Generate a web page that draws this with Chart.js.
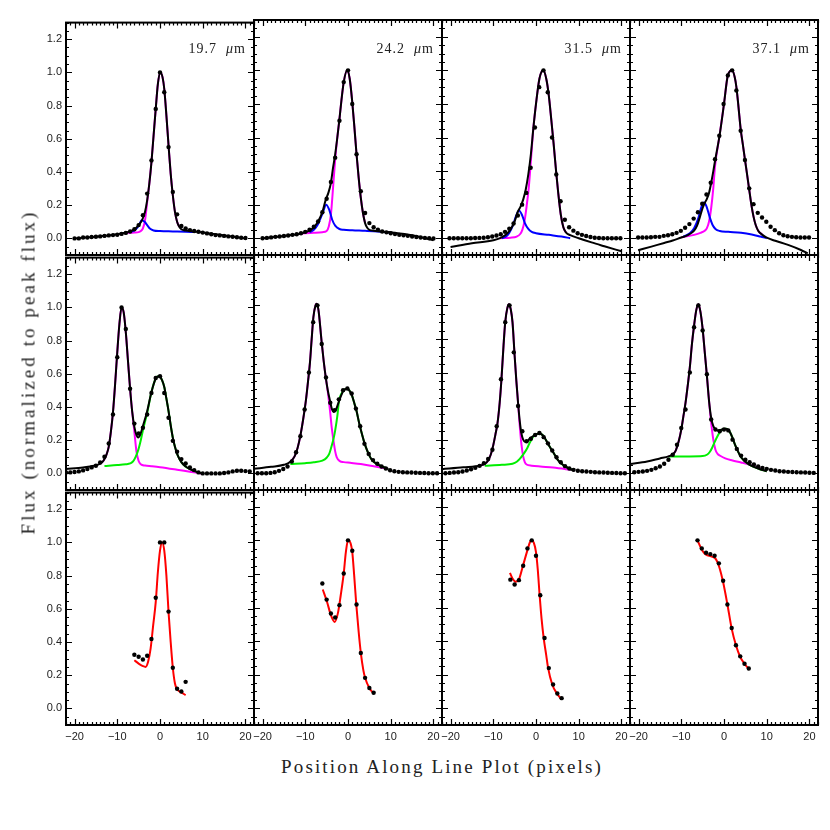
<!DOCTYPE html>
<html><head><meta charset="utf-8">
<script src="https://cdn.jsdelivr.net/npm/chart.js@4.4.1/dist/chart.umd.min.js"></script>
<style>
html,body{margin:0;padding:0;background:#fff;}
#fig{position:relative;width:830px;height:830px;overflow:hidden;background:#fff;}
#fig canvas{position:absolute;}
.wl{position:absolute;font-family:"Liberation Serif",serif;font-size:14px;line-height:16px;letter-spacing:1px;color:#222;white-space:pre;}
.ax{position:absolute;font-family:"Liberation Serif",serif;font-size:19px;line-height:19px;color:#222;white-space:pre;}
</style></head><body><div id="fig"></div>
<script>
// ---------- tick labels / categories ----------
const X_TICKS = [-20, -10, 0, 10, 20];
const Y_TICKS = [0, 0.2, 0.4, 0.6, 0.8, 1.0, 1.2];
const WAVELENGTHS = ['19.7', '24.2', '31.5', '37.1'];
const X_LABEL = 'Position Along Line Plot (pixels)';
const Y_LABEL = 'Flux (normalized to peak flux)';

// ---------- row 1 : single source + shoulder (magenta + blue) ----------
const p1DotStart = -20;
const p1Dots = [0.0,0.0,0.005,0.005,0.008,0.01,0.012,0.015,0.018,0.02,0.022,0.027,0.033,0.042,0.055,0.08,0.14,0.27,0.47,0.78,1.0,0.88,0.55,0.28,0.145,0.075,0.06,0.05,0.045,0.04,0.035,0.03,0.025,0.02,0.018,0.015,0.012,0.01,0.007,0.004,0.002];
const p1Fit = [[-20,0.0],[-15,0.01],[-10,0.025],[-8,0.035],[-7,0.042],[-6,0.055],[-5,0.08],[-4.2,0.11],[-3.5,0.16],[-3,0.23],[-2.5,0.33],[-2,0.46],[-1.5,0.62],[-1,0.78],[-0.5,0.93],[0.1,1.0],[0.6,0.97],[1,0.9],[1.5,0.74],[2,0.56],[2.5,0.39],[3,0.26],[3.5,0.16],[4,0.1],[4.5,0.07],[5,0.055],[6,0.047],[8,0.042],[10,0.036],[13,0.025],[16,0.014],[20,0.0]];
const p1Main = [[-8,0.033],[-6,0.035],[-5,0.038],[-4.5,0.045],[-4,0.06],[-3.5,0.11],[-3,0.22],[-2.5,0.33],[-2,0.46],[-1.5,0.62],[-1,0.78],[-0.5,0.93],[0.1,1.0],[0.6,0.97],[1,0.9],[1.5,0.74],[2,0.56],[2.5,0.39],[3,0.26],[3.5,0.16],[4,0.1],[4.5,0.07]];
const p1Second = [[-7,0.038],[-6,0.048],[-5,0.075],[-4.3,0.11],[-3.6,0.1],[-3,0.08],[-2.3,0.058],[-1.5,0.048],[0,0.044],[3,0.042],[6,0.04],[8,0.038]];

const p2DotStart = -20;
const p2Dots = [0.0,0.002,0.005,0.008,0.01,0.013,0.016,0.02,0.024,0.03,0.038,0.05,0.068,0.1,0.155,0.235,0.335,0.48,0.7,0.93,1.0,0.8,0.5,0.28,0.15,0.09,0.065,0.05,0.04,0.035,0.03,0.025,0.02,0.017,0.014,0.01,0.007,0.004,0.002,0.0,-0.002];
const p2Fit = [[-20,0.0],[-15,0.013],[-11,0.028],[-9,0.045],[-8,0.065],[-7,0.1],[-6,0.155],[-5.2,0.23],[-4.6,0.27],[-4,0.33],[-3.5,0.42],[-3,0.5],[-2.5,0.6],[-2,0.71],[-1.5,0.83],[-1,0.93],[-0.2,1.0],[0.4,0.95],[1,0.81],[1.5,0.66],[2,0.5],[2.5,0.36],[3,0.24],[3.5,0.15],[4,0.09],[4.5,0.062],[5,0.05],[6,0.045],[10,0.035],[15,0.018],[20,-0.012]];
const p2Main = [[-11,0.028],[-8,0.032],[-6,0.036],[-5,0.043],[-4.5,0.07],[-4,0.14],[-3.5,0.3],[-3,0.47],[-2.5,0.6],[-2,0.71],[-1.5,0.83],[-1,0.93],[-0.2,1.0],[0.4,0.95],[1,0.81],[1.5,0.66],[2,0.5],[2.5,0.36],[3,0.24],[3.5,0.15],[4,0.09]];
const p2Second = [[-9,0.035],[-8,0.05],[-7,0.085],[-6,0.145],[-5.1,0.2],[-4.4,0.17],[-3.7,0.11],[-3,0.075],[-2,0.055],[-1,0.05],[1,0.047],[4,0.044],[7,0.04],[10,0.033]];

const p3DotStart = -20.25;
const p3Dots = [0,0,0,0,0,0,0.001,0.002,0.003,0.006,0.01,0.016,0.024,0.038,0.056,0.088,0.135,0.2,0.27,0.42,0.66,0.9,1.0,0.87,0.6,0.38,0.22,0.11,0.065,0.045,0.03,0.02,0.013,0.007,0.003,0.001,0,0,0,0,0];
const p3Fit = [[-20,-0.052],[-15,-0.03],[-10,-0.012],[-8.4,0.0],[-7,0.022],[-6,0.05],[-5,0.1],[-4.3,0.155],[-3.6,0.19],[-3,0.23],[-2.4,0.29],[-1.8,0.38],[-1.2,0.5],[-0.6,0.66],[0,0.8],[0.8,0.95],[1.7,1.0],[2.4,0.95],[3,0.85],[3.6,0.7],[4.1,0.57],[4.7,0.4],[5.2,0.27],[5.8,0.14],[6.4,0.065],[7,0.035],[8,0.018],[10,0.0],[13,-0.025],[16,-0.048],[20,-0.078]];
const p3Main = [[-8.5,0.0],[-6,0.003],[-4.5,0.01],[-3.7,0.025],[-3.2,0.05],[-2.7,0.1],[-2.2,0.19],[-1.7,0.3],[-1.2,0.46],[-0.6,0.66],[0,0.8],[0.8,0.95],[1.7,1.0],[2.4,0.95],[3,0.85],[3.6,0.7],[4.1,0.57],[4.7,0.4],[5.2,0.27],[5.8,0.14],[6.4,0.065],[7,0.035]];
const p3Second = [[-8,0.0],[-7,0.01],[-6.3,0.03],[-5.5,0.07],[-4.7,0.13],[-4,0.165],[-3.3,0.14],[-2.6,0.09],[-1.8,0.055],[-1,0.038],[0,0.03],[3,0.02],[6,0.01],[8,0.0]];

const p4DotStart = -20.1;
const p4Dots = [0.004,0.004,0.004,0.006,0.008,0.008,0.014,0.018,0.024,0.032,0.044,0.062,0.084,0.117,0.155,0.205,0.26,0.33,0.47,0.61,0.8,0.97,1.0,0.88,0.64,0.466,0.297,0.203,0.151,0.123,0.098,0.068,0.048,0.03,0.018,0.012,0.008,0.006,0.004,0.004,0.004];
const p4Fit = [[-20.1,-0.072],[-17,-0.05],[-14,-0.028],[-12,-0.014],[-10,0.004],[-9,0.012],[-8,0.025],[-7,0.045],[-6.3,0.075],[-5.6,0.13],[-5,0.18],[-4.5,0.21],[-4,0.235],[-3.5,0.27],[-3,0.33],[-2.5,0.4],[-2.1,0.46],[-1.05,0.61],[0,0.8],[0.9,0.97],[1.9,1.0],[2.5,0.96],[2.9,0.9],[3.4,0.78],[3.9,0.65],[4.4,0.56],[4.9,0.47],[5.4,0.38],[5.9,0.29],[6.4,0.2],[6.9,0.13],[7.4,0.08],[8,0.045],[9,0.02],[10,0.003],[12,-0.015],[15,-0.04],[18,-0.07],[19.6,-0.09]];
const p4Main = [[-10,0.006],[-7,0.02],[-5.5,0.032],[-4.5,0.045],[-4,0.06],[-3.5,0.1],[-3,0.18],[-2.5,0.3],[-2.1,0.43],[-1.05,0.61],[0,0.8],[0.9,0.97],[1.9,1.0],[2.5,0.96],[2.9,0.9],[3.4,0.78],[3.9,0.65],[4.4,0.56],[4.9,0.47],[5.4,0.38],[5.9,0.29],[6.4,0.2],[6.9,0.13],[7.4,0.08],[8,0.045],[9,0.02]];
const p4Second = [[-9.5,0.01],[-8,0.03],[-7,0.06],[-6,0.12],[-5.3,0.185],[-4.7,0.213],[-4.1,0.19],[-3.4,0.13],[-2.7,0.08],[-2,0.055],[-1,0.043],[1,0.038],[4,0.032],[6.5,0.022],[8.5,0.01],[10,0.0]];

// ---------- row 2 : two sources (magenta + green) ----------
const p5DotStart = -22;
const p5Dots = [0.005,0.006,0.008,0.012,0.018,0.026,0.036,0.046,0.066,0.1,0.18,0.355,0.7,1.0,0.87,0.51,0.3,0.24,0.275,0.355,0.484,0.575,0.585,0.484,0.335,0.196,0.13,0.086,0.06,0.036,0.02,0.006,0.0,0.0,0.0,0.0,0.0,0.002,0.006,0.012,0.016,0.016,0.014,0.012];
const p5Fit = [[-22,0.026],[-18,0.036],[-15.5,0.046],[-14,0.058],[-13.2,0.078],[-12.5,0.115],[-12,0.16],[-11.5,0.25],[-11,0.37],[-10.5,0.54],[-10,0.73],[-9.5,0.9],[-9,1.0],[-8.5,0.97],[-8,0.85],[-7.5,0.68],[-7,0.51],[-6.5,0.37],[-6,0.28],[-5.5,0.23],[-5.1,0.216],[-4.6,0.235],[-4,0.285],[-3,0.375],[-2,0.49],[-1,0.572],[-0.2,0.587],[0.5,0.56],[1,0.52],[1.5,0.45],[2,0.375],[2.5,0.29],[3,0.215],[3.5,0.16],[4,0.118],[5,0.068],[6,0.042],[7,0.026],[8,0.015],[9,0.006],[9.75,0.0]];
const p5Main = [[-14,0.058],[-13.2,0.078],[-12.5,0.115],[-12,0.16],[-11.5,0.25],[-11,0.37],[-10.5,0.54],[-10,0.73],[-9.5,0.9],[-9,1.0],[-8.5,0.97],[-8,0.85],[-7.5,0.68],[-7,0.51],[-6.5,0.37],[-6,0.25],[-5.5,0.13],[-5,0.075],[-4.5,0.055],[-3.5,0.047],[-2,0.043],[0,0.037],[4,0.022],[7,0.01],[9.6,0.0]];
const p5Second = [[-13,0.045],[-10,0.05],[-8,0.055],[-7,0.06],[-6.3,0.072],[-5.7,0.1],[-5.1,0.14],[-4.5,0.2],[-4,0.26],[-3,0.365],[-2,0.49],[-1,0.572],[-0.2,0.587],[0.5,0.56],[1,0.52],[1.5,0.45],[2,0.375],[2.5,0.29],[3,0.215],[3.5,0.16],[4,0.118],[5,0.068],[6,0.042],[7,0.026],[8,0.015],[9,0.006],[9.75,0.0]];

const p6DotStart = -21.15;
const p6Dots = [0,0,0,0.002,0.006,0.014,0.025,0.04,0.07,0.125,0.22,0.38,0.6,0.9,1.0,0.77,0.57,0.42,0.375,0.44,0.495,0.505,0.475,0.385,0.28,0.175,0.115,0.078,0.056,0.04,0.028,0.018,0.012,0.008,0.006,0.005,0.004,0.003,0.002,0.001,0,0,0];
const p6Fit = [[-22,0.026],[-18,0.038],[-15,0.05],[-13.5,0.068],[-12.5,0.1],[-11.8,0.15],[-11.1,0.23],[-10.5,0.32],[-9.8,0.445],[-9.3,0.56],[-8.9,0.66],[-8.5,0.8],[-8.1,0.93],[-7.6,1.0],[-7.3,1.01],[-6.9,0.97],[-6.2,0.79],[-5.7,0.67],[-5.2,0.57],[-4.7,0.49],[-4.2,0.43],[-3.8,0.385],[-3.3,0.365],[-2.8,0.38],[-2.1,0.43],[-1.1,0.49],[-0.15,0.505],[0.4,0.49],[0.9,0.465],[1.5,0.415],[2,0.37],[2.6,0.3],[3.2,0.24],[3.8,0.185],[4.4,0.14],[5,0.105],[5.6,0.08],[6.7,0.056],[8,0.04],[9.4,0.026]];
const p6Main = [[-13.5,0.068],[-12.5,0.1],[-11.8,0.15],[-11.1,0.23],[-10.5,0.32],[-9.8,0.445],[-9.3,0.56],[-8.9,0.66],[-8.5,0.8],[-8.1,0.93],[-7.6,1.0],[-7.3,1.01],[-6.9,0.97],[-6.2,0.79],[-5.7,0.67],[-5.2,0.57],[-4.7,0.48],[-4.2,0.37],[-3.8,0.27],[-3.4,0.195],[-3,0.13],[-2.65,0.096],[-1.9,0.072],[-1,0.066],[0.5,0.062],[3,0.055],[6,0.042],[9.4,0.026]];
const p6Second = [[-13.5,0.055],[-10,0.06],[-8,0.065],[-6,0.075],[-5,0.092],[-4.4,0.115],[-3.8,0.165],[-3.3,0.215],[-3,0.255],[-2.5,0.34],[-2.1,0.43],[-1.1,0.49],[-0.15,0.505],[0.4,0.49],[0.9,0.465],[1.5,0.415],[2,0.37],[2.6,0.3],[3.2,0.24],[3.8,0.185],[4.4,0.14],[5,0.105],[5.6,0.08],[6.7,0.056],[8,0.04],[9.4,0.026]];

const p7DotStart = -21.2;
const p7Dots = [0,0.002,0.004,0.006,0.01,0.016,0.024,0.032,0.044,0.06,0.085,0.14,0.28,0.56,0.9,1.0,0.72,0.4,0.25,0.19,0.205,0.228,0.24,0.215,0.178,0.135,0.095,0.065,0.042,0.028,0.02,0.015,0.012,0.01,0.008,0.006,0.005,0.004,0.003,0.002,0.001,0,0];
const p7Fit = [[-22,0.024],[-17,0.035],[-13,0.046],[-12,0.055],[-11.2,0.076],[-10.6,0.11],[-10.1,0.156],[-9.5,0.23],[-9,0.3],[-8.5,0.42],[-8.1,0.554],[-7.6,0.76],[-7.2,0.9],[-6.7,0.985],[-6.3,1.006],[-5.9,0.975],[-5.5,0.9],[-5,0.7],[-4.6,0.55],[-4.2,0.42],[-3.8,0.31],[-3.4,0.235],[-3,0.2],[-2.5,0.186],[-2,0.19],[-1.5,0.205],[-0.5,0.223],[0.3,0.234],[0.86,0.237],[1.4,0.23],[1.9,0.216],[2.5,0.19],[3,0.166],[4,0.126],[5.1,0.08],[6,0.056],[6.7,0.042],[8,0.025],[9,0.016]];
const p7Main = [[-13,0.046],[-12,0.055],[-11.2,0.076],[-10.6,0.11],[-10.1,0.156],[-9.5,0.23],[-9,0.3],[-8.5,0.42],[-8.1,0.554],[-7.6,0.76],[-7.2,0.9],[-6.7,0.985],[-6.3,1.006],[-5.9,0.975],[-5.5,0.9],[-5,0.7],[-4.6,0.55],[-4.2,0.42],[-3.8,0.28],[-3.4,0.17],[-3,0.1],[-2.6,0.065],[-2.2,0.052],[-1,0.045],[1,0.04],[4,0.034],[7,0.024],[9,0.016]];
const p7Second = [[-12,0.045],[-8,0.05],[-5.5,0.056],[-4.5,0.068],[-3.8,0.085],[-3.2,0.105],[-2.5,0.13],[-2,0.152],[-1.5,0.18],[-0.5,0.223],[0.3,0.234],[0.86,0.237],[1.4,0.23],[1.9,0.216],[2.5,0.19],[3,0.166],[4,0.126],[5.1,0.08],[6,0.056],[6.7,0.042],[8,0.025],[9,0.016]];

const p8DotStart = -21;
const p8Dots = [0.006,0.008,0.01,0.014,0.02,0.03,0.04,0.056,0.08,0.11,0.17,0.27,0.38,0.6,0.87,1.0,0.85,0.59,0.32,0.26,0.25,0.26,0.255,0.2,0.145,0.105,0.08,0.065,0.052,0.04,0.032,0.026,0.02,0.016,0.012,0.01,0.008,0.007,0.006,0.005,0.004,0.003,0.002];
const p8Fit = [[-22,0.055],[-18,0.07],[-15,0.088],[-13,0.1],[-12,0.112],[-11.3,0.135],[-10.6,0.19],[-10,0.26],[-9.5,0.34],[-9,0.42],[-8.5,0.52],[-8,0.63],[-7.5,0.77],[-7,0.88],[-6.5,0.97],[-6,1.006],[-5.5,0.96],[-5,0.86],[-4.5,0.72],[-4,0.58],[-3.5,0.43],[-3,0.33],[-2.5,0.28],[-2,0.262],[-1.5,0.255],[-0.5,0.26],[0.4,0.265],[1,0.258],[1.5,0.24],[2,0.21],[2.5,0.175],[3,0.145],[3.5,0.118],[4,0.095],[5,0.068],[6,0.05],[7,0.038],[8,0.028],[9,0.019],[10,0.012]];
const p8Main = [[-13,0.1],[-12,0.112],[-11.3,0.135],[-10.6,0.19],[-10,0.26],[-9.5,0.34],[-9,0.42],[-8.5,0.52],[-8,0.63],[-7.5,0.77],[-7,0.88],[-6.5,0.97],[-6,1.006],[-5.5,0.96],[-5,0.86],[-4.5,0.72],[-4,0.58],[-3.5,0.43],[-3,0.3],[-2.5,0.2],[-2,0.14],[-1.5,0.115],[-0.9,0.104],[0.3,0.088],[2,0.076],[4,0.064],[7.3,0.04],[10,0.012]];
const p8Second = [[-13,0.1],[-8,0.1],[-5,0.102],[-4,0.11],[-3.3,0.128],[-2.8,0.15],[-2.2,0.185],[-1.5,0.222],[-0.5,0.26],[0.4,0.265],[1,0.258],[1.5,0.24],[2,0.21],[2.5,0.175],[3,0.145],[3.5,0.118],[4,0.095],[5,0.068],[6,0.05],[7,0.038],[8,0.028],[9,0.019],[10,0.012]];

// ---------- row 3 : ratio profiles (red fit) ----------
const p9DotStart = -6;
const p9Dots = [0.323,0.311,0.295,0.317,0.418,0.667,1.0,1.0,0.583,0.245,0.118,0.102,0.16];
const p9Fit = [[-6,0.29],[-5,0.27],[-4,0.255],[-3.4,0.25],[-2.8,0.28],[-2.2,0.36],[-1.6,0.5],[-1,0.64],[-0.5,0.82],[0,0.95],[0.5,1.0],[1,0.95],[1.5,0.8],[2,0.58],[2.5,0.4],[3,0.245],[3.5,0.15],[4,0.115],[4.5,0.103],[5,0.096],[6,0.08]];

const p10DotStart = -6;
const p10Dots = [0.743,0.647,0.564,0.54,0.614,0.803,1.0,0.938,0.618,0.329,0.181,0.12,0.092];
const p10Fit = [[-5.9,0.707],[-4.9,0.633],[-4,0.554],[-3.1,0.514],[-2.3,0.574],[-1.7,0.673],[-1,0.803],[-0.5,0.93],[0,1.0],[0.5,0.99],[1,0.93],[1.45,0.79],[1.95,0.614],[2.5,0.454],[3,0.33],[3.6,0.225],[4,0.181],[5,0.12],[6,0.088]];

const p11DotStart = -6;
const p11Dots = [0.766,0.737,0.763,0.849,0.952,1.0,0.908,0.673,0.418,0.239,0.141,0.088,0.06];
const p11Fit = [[-6.1,0.806],[-5.5,0.773],[-4.75,0.753],[-4,0.767],[-3.05,0.849],[-2,0.942],[-1.4,0.99],[-1,1.0],[-0.5,0.985],[0,0.93],[0.4,0.83],[0.85,0.673],[1.3,0.534],[1.8,0.418],[2.4,0.315],[2.8,0.245],[3.8,0.141],[4.9,0.088],[5.85,0.056]];

const p12DotStart = -6.2;
const p12Dots = [1.0,0.952,0.926,0.918,0.908,0.863,0.759,0.618,0.478,0.375,0.309,0.265,0.237];
const p12Fit = [[-6.2,1.0],[-5.1,0.94],[-4.2,0.915],[-3,0.905],[-1.9,0.888],[-1.1,0.84],[-0.2,0.75],[0.8,0.618],[1.8,0.474],[2.8,0.375],[3.8,0.305],[4.8,0.265],[5.9,0.23]];

// ---------- styling / layout ----------
const MAGENTA = '#ff00ff', BLUE = '#0000ff', GREEN = '#00ee00', RED = '#ff0000', BLACK = '#000000';
const COL_X = [66, 254, 442, 630], ROW_Y = [20, 255, 490];
const PW = 188, PH = 235, PAD_L = 50, PAD_R = 12, PAD_T = 8, PAD_B = 26;
const TICK_FONT = {family: "'Liberation Sans', Arial, sans-serif", size: 11};

const panels = [
  {dStart: p1DotStart, dots: p1Dots, fit: p1Fit, fc: BLACK, comps: [[p1Main, MAGENTA], [p1Second, BLUE]]},
  {dStart: p2DotStart, dots: p2Dots, fit: p2Fit, fc: BLACK, comps: [[p2Main, MAGENTA], [p2Second, BLUE]]},
  {dStart: p3DotStart, dots: p3Dots, fit: p3Fit, fc: BLACK, comps: [[p3Main, MAGENTA], [p3Second, BLUE]]},
  {dStart: p4DotStart, dots: p4Dots, fit: p4Fit, fc: BLACK, comps: [[p4Main, MAGENTA], [p4Second, BLUE]]},
  {dStart: p5DotStart, dots: p5Dots, fit: p5Fit, fc: BLACK, comps: [[p5Main, MAGENTA], [p5Second, GREEN]]},
  {dStart: p6DotStart, dots: p6Dots, fit: p6Fit, fc: BLACK, comps: [[p6Main, MAGENTA], [p6Second, GREEN]]},
  {dStart: p7DotStart, dots: p7Dots, fit: p7Fit, fc: BLACK, comps: [[p7Main, MAGENTA], [p7Second, GREEN]]},
  {dStart: p8DotStart, dots: p8Dots, fit: p8Fit, fc: BLACK, comps: [[p8Main, MAGENTA], [p8Second, GREEN]]},
  {dStart: p9DotStart, dots: p9Dots, fit: p9Fit, fc: RED, comps: []},
  {dStart: p10DotStart, dots: p10Dots, fit: p10Fit, fc: RED, comps: []},
  {dStart: p11DotStart, dots: p11Dots, fit: p11Fit, fc: RED, comps: []},
  {dStart: p12DotStart, dots: p12Dots, fit: p12Fit, fc: RED, comps: []}
];

const framePlugin = {
  id: 'frame',
  afterDraw(chart) {
    const {ctx, chartArea: a, scales: {x, y}} = chart;
    ctx.save();
    ctx.strokeStyle = '#000';
    ctx.lineWidth = 1.2;
    ctx.beginPath();
    for (let v = -22; v <= 22; v++) {
      const len = (v % 10 === 0) ? 6 : 3;
      const px = Math.round(x.getPixelForValue(v)) + 0.5;
      ctx.moveTo(px, a.bottom); ctx.lineTo(px, a.bottom - len);
      ctx.moveTo(px, a.top); ctx.lineTo(px, a.top + len);
    }
    for (let k = -2; k <= 26; k++) {
      const major = (k % 4 === 0) && k >= 0 && k <= 24;
      const len = major ? 6 : 3;
      const py = Math.round(y.getPixelForValue(k * 0.05)) + 0.5;
      ctx.moveTo(a.left, py); ctx.lineTo(a.left + len, py);
      ctx.moveTo(a.right, py); ctx.lineTo(a.right - len, py);
    }
    ctx.stroke();
    ctx.lineWidth = 2;
    ctx.strokeRect(a.left, a.top, a.right - a.left, a.bottom - a.top);
    ctx.restore();
  }
};

const toXY = arr => arr.map(([x, y]) => ({x, y}));
const lineSet = (arr, color, order) => ({
  data: toXY(arr), showLine: true, borderColor: color, borderWidth: 2,
  pointRadius: 0, pointHoverRadius: 0, cubicInterpolationMode: 'monotone', fill: false, order
});
const dotSet = (start, vals) => ({
  data: vals.map((y, i) => ({x: start + i, y})), showLine: false,
  pointRadius: 2.2, pointHoverRadius: 2.2, pointBackgroundColor: '#000', pointBorderWidth: 0, pointBorderColor: '#000', order: 0
});

const fig = document.getElementById('fig');

panels.forEach((p, i) => {
  const r = Math.floor(i / 4), c = i % 4;
  const W = PW + PAD_L + PAD_R, H = PH + PAD_T + PAD_B;
  const cv = document.createElement('canvas');
  cv.width = W; cv.height = H;
  cv.style.width = W + 'px'; cv.style.height = H + 'px';
  cv.style.left = (COL_X[c] - PAD_L) + 'px';
  cv.style.top = (ROW_Y[r] - PAD_T) + 'px';
  fig.appendChild(cv);

  const datasets = [dotSet(p.dStart, p.dots), lineSet(p.fit, p.fc, 1)];
  p.comps.forEach(([arr, col], j) => datasets.push(lineSet(arr, col, 3 - j)));

  new Chart(cv, {
    type: 'scatter',
    data: {datasets},
    options: {
      responsive: false, animation: false, devicePixelRatio: 1, events: [],
      layout: {padding: {left: 0, right: PAD_R, top: PAD_T, bottom: 0}, autoPadding: false},
      plugins: {legend: {display: false}, tooltip: {enabled: false}},
      scales: {
        x: {
          type: 'linear', position: 'bottom', min: -22, max: 22,
          afterBuildTicks: s => { s.ticks = X_TICKS.map(v => ({value: v})); },
          afterFit: s => { s.height = PAD_B; },
          grid: {display: false, drawTicks: false}, border: {display: false},
          ticks: {display: r === 2, autoSkip: false, maxRotation: 0, minRotation: 0, padding: 5,
                  color: '#222', font: TICK_FONT,
                  callback: v => v < 0 ? '\u2212' + Math.abs(v) : String(v)}
        },
        y: {
          type: 'linear', position: 'left', min: -0.1, max: 1.3,
          afterBuildTicks: s => { s.ticks = Y_TICKS.map(v => ({value: v})); },
          afterFit: s => { s.width = PAD_L; },
          grid: {display: false, drawTicks: false}, border: {display: false},
          ticks: {display: c === 0, padding: 4, color: '#222', font: TICK_FONT,
                  callback: v => Number(v).toFixed(1)}
        }
      }
    },
    plugins: [framePlugin]
  });
});

// wavelength labels (row 1)
WAVELENGTHS.forEach((w, c) => {
  const d = document.createElement('div');
  d.className = 'wl';
  d.innerHTML = w + '  <i>\u03bc</i>m';
  d.style.right = (830 - (COL_X[c] + PW - 9) - 1) + 'px';
  d.style.top = '41px';
  fig.appendChild(d);
});

// axis titles (letter-spaced to the reference widths)
const mc = document.createElement('canvas').getContext('2d');
mc.font = '19px "Liberation Serif"';
const lsX = (323 - mc.measureText(X_LABEL).width) / X_LABEL.length;
const lsY = (325 - mc.measureText(Y_LABEL).width) / Y_LABEL.length;

const xl = document.createElement('div');
xl.className = 'ax'; xl.textContent = X_LABEL;
xl.style.letterSpacing = lsX + 'px';
xl.style.left = '442px'; xl.style.top = '766px';
xl.style.transform = 'translate(-50%,-50%)';
fig.appendChild(xl);

const yl = document.createElement('div');
yl.className = 'ax'; yl.textContent = Y_LABEL;
yl.style.letterSpacing = lsY + 'px';
yl.style.left = '28px'; yl.style.top = '372px';
yl.style.transform = 'translate(-50%,-50%) rotate(-90deg)';
fig.appendChild(yl);
</script>
</body></html>
